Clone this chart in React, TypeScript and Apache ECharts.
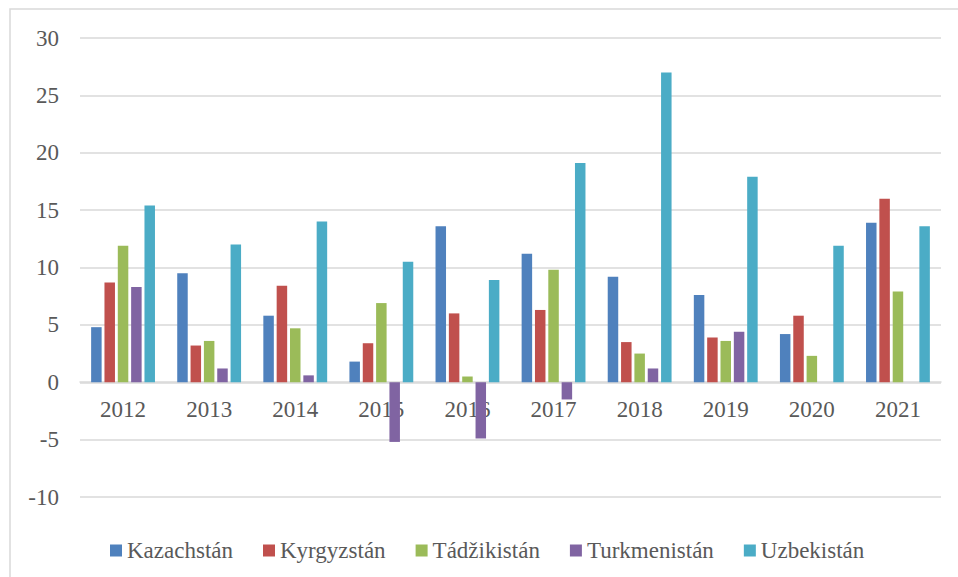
import React, { useEffect, useRef } from "react";
import * as echarts from "echarts";

const years = ["2012", "2013", "2014", "2015", "2016", "2017", "2018", "2019", "2020", "2021"];
const kazachstan = [4.8, 9.5, 5.8, 1.8, 13.6, 11.2, 9.2, 7.6, 4.2, 13.9];
const kyrgyzstan = [8.7, 3.2, 8.4, 3.4, 6.0, 6.3, 3.5, 3.9, 5.8, 16.0];
const tadzikistan = [11.9, 3.6, 4.7, 6.9, 0.5, 9.8, 2.5, 3.6, 2.3, 7.9];
const turkmenistan = [8.3, 1.2, 0.6, -5.2, -4.9, -1.5, 1.2, 4.4, null, null];
const uzbekistan = [15.4, 12.0, 14.0, 10.5, 8.9, 19.1, 27.0, 17.9, 11.9, 13.6];

const seriesNames = ["Kazachstán", "Kyrgyzstán", "Tádžikistán", "Turkmenistán", "Uzbekistán"];
const seriesData = [kazachstan, kyrgyzstan, tadzikistan, turkmenistan, uzbekistan];
const colors = ["#4F81BD", "#C0504D", "#9BBB59", "#8064A2", "#4BACC6"];

const font = "Liberation Serif, serif";
const textColor = "#595959";

export default function App() {
  const ref = useRef<HTMLDivElement>(null);
  useEffect(() => {
    document.body.style.margin = "0";
    if (!ref.current) return;
    const chart = echarts.init(ref.current, null, { renderer: "svg" });
    chart.setOption({
      animation: false,
      backgroundColor: "#ffffff",
      color: colors,
      textStyle: { fontFamily: font, fontSize: 23 },
      graphic: [
        {
          type: "rect",
          shape: { x: 10, y: 9, width: 960, height: 600 },
          style: { fill: "none", stroke: "#d9d9d9", lineWidth: 1.5 },
          silent: true,
        },
      ],
      grid: { left: 80, right: 17, top: 38, bottom: 80, containLabel: false },
      legend: {
        left: 105,
        top: 534,
        icon: "rect",
        itemWidth: 12,
        itemHeight: 12,
        itemGap: 30,
        textStyle: { fontFamily: font, fontSize: 23, color: textColor },
        data: seriesNames,
      },
      xAxis: {
        type: "category",
        data: years,
        position: "bottom",
        offset: -115,
        axisTick: { show: false },
        axisLine: { onZero: false, lineStyle: { color: "#d9d9d9", width: 1.5 } },
        axisLabel: { fontFamily: font, fontSize: 23, color: textColor, margin: 16 },
      },
      yAxis: {
        type: "value",
        min: -10,
        max: 30,
        interval: 5,
        axisLine: { show: false },
        axisTick: { show: false },
        splitLine: { lineStyle: { color: "#d9d9d9", width: 1.5 } },
        axisLabel: { fontFamily: font, fontSize: 23, color: textColor, margin: 21 },
      },
      series: seriesNames.map((name, i) => ({
        name,
        type: "bar",
        data: seriesData[i],
        barWidth: 10.5,
        barGap: "27%",
        itemStyle: { color: colors[i] },
      })),
    });
    return () => chart.dispose();
  }, []);
  return <div ref={ref} style={{ width: 958, height: 577 }} />;
}
